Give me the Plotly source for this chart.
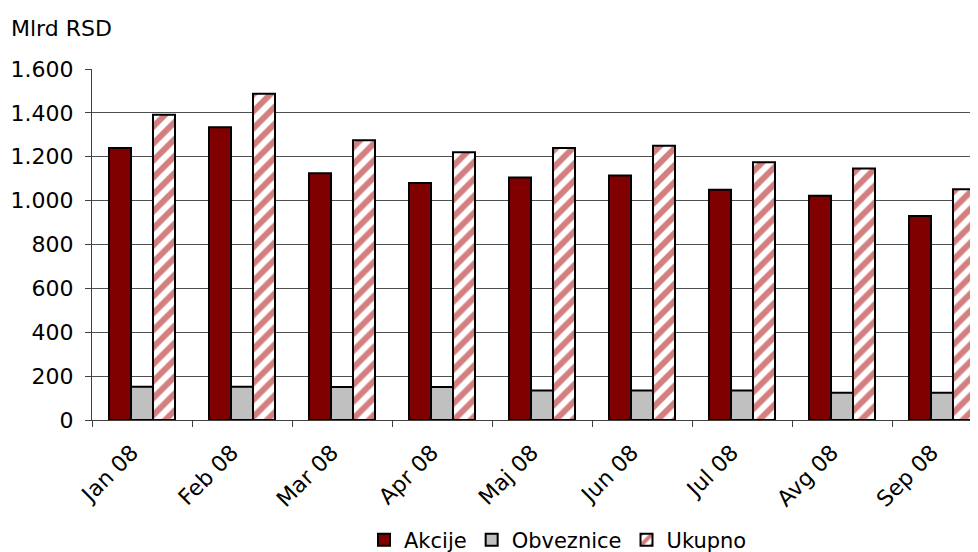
import plotly.graph_objects as go

categories = ["Jan 08", "Feb 08", "Mar 08", "Apr 08", "Maj 08", "Jun 08", "Jul 08", "Avg 08", "Sep 08"]
akcije = [1240, 1335, 1125, 1080, 1105, 1115, 1050, 1022, 930]
obveznice = [152, 152, 150, 150, 135, 135, 134, 124, 124]
ukupno = [1392, 1487, 1275, 1220, 1240, 1250, 1175, 1147, 1052]
y_ticks = [0, 200, 400, 600, 800, 1000, 1200, 1400, 1600]

fig = go.Figure()
fig.add_trace(go.Bar(name="Akcije", x=categories, y=akcije,
                     marker=dict(color="#800000", line=dict(color="black", width=2))))
fig.add_trace(go.Bar(name="Obveznice", x=categories, y=obveznice,
                     marker=dict(color="#C0C0C0", line=dict(color="black", width=2))))
fig.add_trace(go.Bar(name="Ukupno", x=categories, y=ukupno,
                     marker=dict(color="white", line=dict(color="black", width=2),
                                 pattern=dict(shape="/", fgcolor="#AA0000", bgcolor="white",
                                              size=12, solidity=0.5))))

fig.update_layout(
    width=970, height=544,
    margin=dict(l=84, r=0, t=61, b=132, autoexpand=False),
    barmode="group", bargap=0.34, bargroupgap=0,
    plot_bgcolor="white", paper_bgcolor="white",
    separators=",.",
    font=dict(family="DejaVu Sans", size=22, color="black"),
    showlegend=True,
    legend=dict(orientation="h", x=0.567, xanchor="center", xref="container",
                y=0.022, yanchor="middle", yref="container",
                font=dict(size=21), itemwidth=30, traceorder="normal",
                tracegroupgap=0),
)
fig.add_annotation(text="Mlrd RSD", xref="paper", yref="paper", x=-83/886, y=1 + 41/351,
                   xanchor="left", yanchor="middle", showarrow=False, font=dict(size=22))

fig.update_xaxes(range=[-0.5, 8.36], showline=True, linecolor="#404040", linewidth=1,
                 ticks="outside", tickson="boundaries", ticklen=6, tickcolor="#404040",
                 tickangle=-45, tickfont=dict(size=22), showgrid=False, automargin=False,
                 ticklabelstandoff=10, ticklabelshift=-10)
fig.update_yaxes(range=[0, 1600], tickvals=y_ticks, tickformat=",d", showline=True,
                 linecolor="#404040", linewidth=1, ticks="outside", ticklen=6,
                 tickcolor="#404040", showgrid=True, gridcolor="#505050", gridwidth=1,
                 tickfont=dict(size=22), zeroline=False, automargin=False,
                 ticklabelstandoff=7)

fig.write_html("out.html")
